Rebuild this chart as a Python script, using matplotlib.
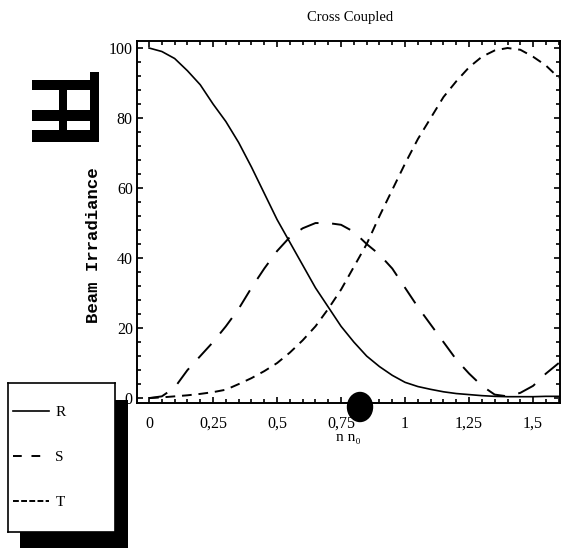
import matplotlib
matplotlib.use('Agg')
from matplotlib import pyplot as plt
from matplotlib.patches import Rectangle, Ellipse
from matplotlib.lines import Line2D
from matplotlib.ticker import MultipleLocator, FuncFormatter

# valores
x = [0, 0.05, 0.1, 0.15, 0.2, 0.25, 0.3, 0.35, 0.4, 0.45, 0.5, 0.55, 0.6, 0.65,
     0.7, 0.75, 0.8, 0.85, 0.9, 0.95, 1.0, 1.05, 1.1, 1.15, 1.2, 1.25, 1.3, 1.35,
     1.4, 1.45, 1.5, 1.55, 1.6]
R = [100, 99, 97, 93.5, 89.5, 84, 79, 73, 66, 58.5, 51, 44.5, 38, 31.5,
     26, 20.5, 16, 12, 9, 6.5, 4.5, 3.3, 2.5, 1.8, 1.3, 1.0, 0.7, 0.5,
     0.4, 0.4, 0.4, 0.5, 0.5]
S = [0, 0.5, 3, 8, 12, 16, 20.5, 25.5, 31.5, 37, 42, 46, 48.5, 50,
     50, 49.5, 47.5, 44, 41, 37, 31.5, 26, 21, 16, 11, 7, 3.5, 1,
     0.5, 1.5, 3.5, 7, 10]
T = [0, 0.2, 0.5, 0.8, 1.2, 1.7, 2.4, 4, 5.7, 7.7, 10, 13, 16.5, 20.5,
     25.5, 31, 37.5, 44, 52, 59.5, 67, 74, 80, 86, 90.5, 94.5, 97.5, 99.3,
     100, 99.5, 97.5, 95, 91.5]
x_ticks = [0, 0.25, 0.5, 0.75, 1, 1.25, 1.5]
y_ticks = [0, 20, 40, 60, 80, 100]
etiquetas = ['R', 'S', 'T']

W, H = 566, 548
serif = ['Liberation Serif', 'DejaVu Serif']


def rect_px(fig, x0, y0, x1, y1, **kw):
    # rectangulo en pixeles de la imagen (origen arriba a la izquierda)
    r = Rectangle((x0 / W, 1 - y1 / H), (x1 - x0) / W, (y1 - y0) / H,
                  transform=fig.transFigure, facecolor='black',
                  edgecolor='none', **kw)
    fig.patches.append(r)


def main():
    fig = plt.figure(figsize=(W / 100, H / 100), dpi=100)
    fig.patch.set_facecolor('white')

    ax = fig.add_axes([137 / W, 1 - 403 / H, (560 - 137) / W, (403 - 41) / H])
    ax.plot(x, R, color='black', lw=1.2)
    ax.plot(x, S, color='black', lw=1.4, dashes=(10, 7))
    ax.plot(x, T, color='black', lw=1.4, dashes=(5, 3.5))
    ax.set_xlim(-0.047, 1.605)
    ax.set_ylim(-1.4, 102)

    ax.set_xticks(x_ticks)
    ax.set_yticks(y_ticks)
    ax.xaxis.set_minor_locator(MultipleLocator(0.05))
    ax.yaxis.set_minor_locator(MultipleLocator(4))
    ax.xaxis.set_major_formatter(FuncFormatter(lambda v, p: ('%g' % v).replace('.', ',')))
    ax.tick_params(which='both', direction='in', top=True, right=True, width=1.2)
    ax.tick_params(which='major', length=4.5)
    ax.tick_params(which='minor', length=3)
    ax.tick_params(axis='x', pad=9)
    ax.tick_params(axis='y', pad=3)
    for lab in ax.get_xticklabels() + ax.get_yticklabels():
        lab.set_family(serif)
        lab.set_fontsize(11.5)
    for s in ax.spines.values():
        s.set_linewidth(1.4)
    ax.set_xlabel('n n\u2080', family=serif, fontsize=11, labelpad=0)

    fig.text(350 / W, 1 - 17 / H, 'Cross Coupled', family=serif, fontsize=10.5,
             ha='center', va='center')
    fig.text(94 / W, 1 - 245 / H, 'Beam Irradiance', family='Liberation Mono',
             fontweight='bold', fontsize=12.5, rotation=90, ha='center', va='center')

    # simbolo negro de la izquierda
    rect_px(fig, 32, 80, 92, 90)
    rect_px(fig, 32, 110, 92, 121)
    rect_px(fig, 32, 130, 99, 142)
    rect_px(fig, 90, 72, 99, 142)
    rect_px(fig, 59, 88, 67, 132)

    # punto negro sobre el eje
    fig.patches.append(Ellipse((360 / W, 1 - 407 / H), 25 / W, 29 / H,
                               transform=fig.transFigure, color='black', zorder=5))

    # leyenda con sombra
    rect_px(fig, 20, 400, 128, 548, zorder=-1)
    lax = fig.add_axes([8 / W, 1 - 532 / H, 107 / W, 149 / H])
    lax.set_xticks([])
    lax.set_yticks([])
    lax.set_facecolor('white')
    for s in lax.spines.values():
        s.set_linewidth(1.2)
    muestras = [Line2D([], [], color='black', lw=1.2),
                Line2D([], [], color='black', lw=1.4, dashes=(4.5, 5)),
                Line2D([], [], color='black', lw=1.4, dashes=(3, 1.2))]
    lax.legend(muestras, etiquetas, loc='center left', bbox_to_anchor=(0, 0.5),
               frameon=False, prop={'family': serif, 'size': 11},
               handlelength=2.4, labelspacing=2.05, borderaxespad=0,
               borderpad=0.3, handletextpad=0.4)

    fig.savefig('out.png', dpi=100)


if __name__ == '__main__':
    main()
